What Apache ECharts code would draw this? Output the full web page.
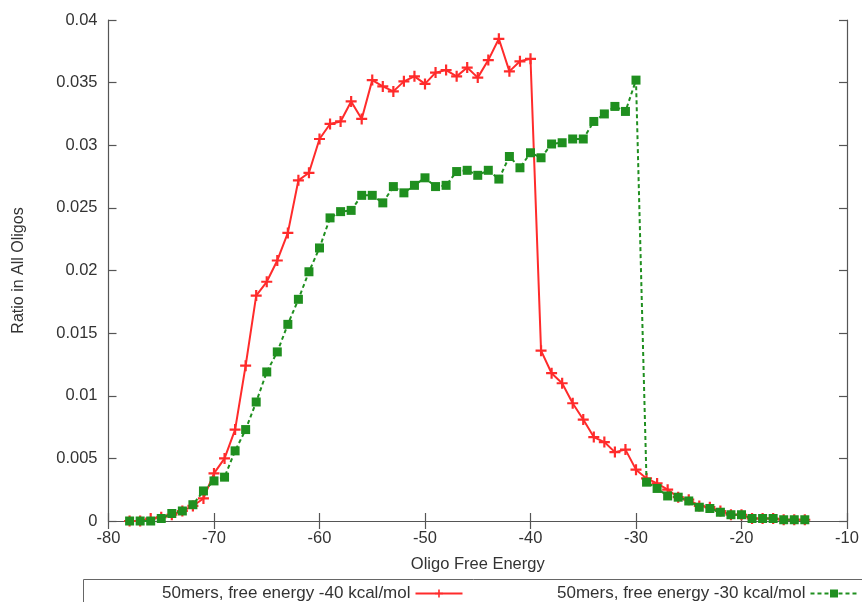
<!DOCTYPE html>
<html>
<head>
<meta charset="utf-8">
<title>Oligo Free Energy distribution</title>
<script src="https://cdn.jsdelivr.net/npm/echarts@6/dist/echarts.min.js"></script>
<style>
  html, body { margin: 0; padding: 0; background: #ffffff; }
  #chart { width: 862px; height: 602px; }
</style>
</head>
<body>
<div id="chart"></div>
<script>
// Oligo free energy bins (kcal/mol)
const energies = [
  -78, -77, -76, -75, -74, -73, -72, -71, -70, -69,
  -68, -67, -66, -65, -64, -63, -62, -61, -60, -59,
  -58, -57, -56, -55, -54, -53, -52, -51, -50, -49,
  -48, -47, -46, -45, -44, -43, -42, -41, -40, -39,
  -38, -37, -36, -35, -34, -33, -32, -31, -30, -29,
  -28, -27, -26, -25, -24, -23, -22, -21, -20, -19,
  -18, -17, -16, -15, -14
];

// 50mers, free energy cutoff -40 kcal/mol
const ratio40 = [
  0, 0, 0.0002, 0.0003, 0.0005, 0.0008, 0.0012, 0.0018, 0.0038, 0.0050,
  0.0073, 0.0124, 0.0180, 0.0191, 0.0208, 0.0230, 0.0272, 0.0278, 0.0305, 0.0317,
  0.0319, 0.0335, 0.0321, 0.0352, 0.0347, 0.0343, 0.0351, 0.0355, 0.0349, 0.0358,
  0.0360, 0.0355, 0.0362, 0.0354, 0.0368, 0.0385, 0.0359, 0.0367, 0.0369, 0.0136,
  0.0118, 0.0110, 0.0094, 0.0081, 0.0067, 0.0063, 0.0055, 0.0057, 0.0041, 0.0034,
  0.0030, 0.0025, 0.0019, 0.0017, 0.0012, 0.0011, 0.0008, 0.0005, 0.0005, 0.0002,
  0.0002, 0.0002, 0.0001, 0.0001, 0.0001
];

// 50mers, free energy cutoff -30 kcal/mol
const ratio30 = [
  0, 0, 0, 0.0002, 0.0006, 0.0008, 0.0013, 0.0024, 0.0032, 0.0035,
  0.0056, 0.0073, 0.0095, 0.0119, 0.0135, 0.0157, 0.0177, 0.0199, 0.0218, 0.0242,
  0.0247, 0.0248, 0.0260, 0.0260, 0.0254, 0.0267, 0.0262, 0.0268, 0.0274, 0.0267,
  0.0268, 0.0279, 0.0280, 0.0276, 0.0280, 0.0273, 0.0291, 0.0282, 0.0294, 0.0290,
  0.0301, 0.0302, 0.0305, 0.0305, 0.0319, 0.0325, 0.0331, 0.0327, 0.0352, 0.0031,
  0.0026, 0.0020, 0.0019, 0.0016, 0.0011, 0.0010, 0.0007, 0.0005, 0.0005, 0.0002,
  0.0002, 0.0002, 0.0001, 0.0001, 0.0001
];

const seriesNames = [
  '50mers, free energy -40 kcal/mol',
  '50mers, free energy -30 kcal/mol'
];

const yTickLabels = ['0', '0.005', '0.01', '0.015', '0.02', '0.025', '0.03', '0.035', '0.04'];

const FONT = '"Liberation Sans", Arial, sans-serif';
const AXIS_COLOR = '#555555';
const TEXT_COLOR = '#333333';
const RED = '#ff2b2b';
const GREEN = '#1f8f1f';

// gnuplot-style "+" point
const plusPath = 'path://M4,0H6V4H10V6H6V10H4V6H0V4H4Z';

function pairs(xs, ys) {
  return xs.map((x, i) => [x, ys[i]]);
}

const chart = echarts.init(document.getElementById('chart'), null, { renderer: 'canvas' });

const baseX = {
  type: 'value', min: -80, max: -10, interval: 10,
  axisLine: { show: true, lineStyle: { color: AXIS_COLOR, width: 1.2 } },
  axisTick: { show: true, inside: true, length: 8, lineStyle: { color: AXIS_COLOR, width: 1.2 } },
  splitLine: { show: false }
};
const baseY = {
  type: 'value', min: 0, max: 0.04, interval: 0.005,
  axisLine: { show: true, lineStyle: { color: AXIS_COLOR, width: 1.2 } },
  axisTick: { show: true, inside: true, length: 8, lineStyle: { color: AXIS_COLOR, width: 1.2 } },
  splitLine: { show: false }
};

const legendBase = {
  top: 585,
  align: 'right',
  itemWidth: 47, itemHeight: 10,
  padding: 0,
  textStyle: { fontFamily: FONT, fontSize: 17, color: TEXT_COLOR }
};

chart.setOption({
  backgroundColor: '#ffffff',
  animation: false,
  textStyle: { fontFamily: FONT },
  grid: { left: 108.5, right: 15, top: 20, bottom: 81, containLabel: false },
  // key box along the bottom edge
  graphic: [{
    type: 'rect',
    left: 83, top: 579,
    shape: { width: 800, height: 40 },
    style: { fill: '#ffffff', stroke: '#666666', lineWidth: 1 },
    z: -1
  }],
  legend: [
    Object.assign({}, legendBase, { left: 162, data: [seriesNames[0]] }),
    Object.assign({}, legendBase, { left: 557, data: [seriesNames[1]] })
  ],
  xAxis: [
    Object.assign({}, baseX, {
      position: 'bottom',
      name: 'Oligo Free Energy', nameLocation: 'middle', nameGap: 35,
      nameTextStyle: { fontFamily: FONT, fontSize: 16.5, color: TEXT_COLOR },
      axisLabel: { show: true, margin: 9, fontFamily: FONT, fontSize: 16.5, color: TEXT_COLOR }
    }),
    Object.assign({}, baseX, { position: 'top', axisLabel: { show: false } })
  ],
  yAxis: [
    Object.assign({}, baseY, {
      position: 'left',
      name: 'Ratio in All Oligos', nameLocation: 'middle', nameGap: 82, nameRotate: 90,
      nameTextStyle: { fontFamily: FONT, fontSize: 16, color: TEXT_COLOR },
      axisLabel: {
        show: true, margin: 11, fontFamily: FONT, fontSize: 16.5, color: TEXT_COLOR,
        formatter: (v) => {
          const i = Math.round(v / 0.005);
          return yTickLabels[i] !== undefined ? yTickLabels[i] : '';
        }
      }
    }),
    Object.assign({}, baseY, { position: 'right', axisLabel: { show: false } })
  ],
  series: [
    {
      name: seriesNames[0],
      type: 'line',
      xAxisIndex: 0, yAxisIndex: 0,
      data: pairs(energies, ratio40),
      symbol: plusPath,
      symbolSize: 11,
      showAllSymbol: true,
      lineStyle: { color: RED, width: 2, type: 'solid' },
      itemStyle: { color: RED },
      z: 3
    },
    {
      name: seriesNames[1],
      type: 'line',
      xAxisIndex: 0, yAxisIndex: 0,
      data: pairs(energies, ratio30),
      symbol: 'rect',
      symbolSize: 9,
      showAllSymbol: true,
      lineStyle: { color: GREEN, width: 2, type: [4, 3] },
      itemStyle: { color: GREEN },
      z: 4
    }
  ]
});
</script>
</body>
</html>
